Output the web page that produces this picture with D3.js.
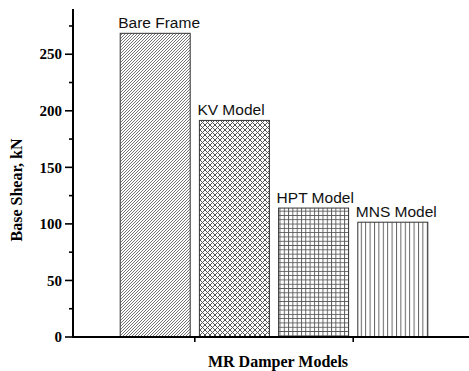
<!DOCTYPE html>
<html>
<head>
<meta charset="utf-8">
<script src="https://cdn.jsdelivr.net/npm/d3@7"></script>
<style>
  body { margin: 0; background: #fff; }
</style>
</head>
<body>
<div id="chart"></div>
<script>
const width = 469, height = 371;

const models = ["Bare Frame", "KV Model", "HPT Model", "MNS Model"];
const baseShear = [268.5, 191.5, 114, 101.5];
const patterns = ["diag", "cross", "grid", "vert"];
const yTicks = [0, 50, 100, 150, 200, 250];
const yMinor = [25, 75, 125, 175, 225, 275];
const xTicks = [1.5, 3.5];

const svg = d3.select("#chart").append("svg")
  .attr("width", width)
  .attr("height", height);

const axisX = 73, axisY = 337;

const y = d3.scaleLinear().domain([0, 290]).range([axisY, 9]);
const x = d3.scaleLinear().domain([0, 5]).range([76, 472]);
const barW = 70;

// fill patterns
const defs = svg.append("defs");
function pat(id, size, draw) {
  const p = defs.append("pattern")
    .attr("id", id)
    .attr("patternUnits", "userSpaceOnUse")
    .attr("width", size).attr("height", size);
  p.append("rect").attr("width", size).attr("height", size).attr("fill", "#fff");
  draw(p, size);
}
pat("diag", 3, (p, s) => {
  p.append("path").attr("d", `M0,${s} L${s},0 M${-s / 2},${s / 2} L${s / 2},${-s / 2} M${s / 2},${s * 1.5} L${s * 1.5},${s / 2}`)
    .attr("stroke", "#666").attr("stroke-width", 0.9);
});
pat("cross", 5, (p, s) => {
  p.append("path").attr("d", `M0,0 L${s},${s} M0,${s} L${s},0`)
    .attr("stroke", "#555").attr("stroke-width", 1);
});
pat("grid", 4.3, (p, s) => {
  p.append("path").attr("d", `M0,0.5 H${s} M0.5,0 V${s}`)
    .attr("stroke", "#555").attr("stroke-width", 0.9);
});
pat("vert", 4.4, (p, s) => {
  p.append("path").attr("d", `M0.5,0 V${s}`)
    .attr("stroke", "#555").attr("stroke-width", 0.9);
});

const data = models.map((m, i) => ({ name: m, value: baseShear[i], pos: i + 1, pattern: patterns[i] }));

// bars
svg.append("g")
  .selectAll("rect").data(data)
  .join("rect")
  .attr("x", d => x(d.pos) - barW / 2)
  .attr("y", d => y(d.value))
  .attr("width", barW)
  .attr("height", d => y(0) - y(d.value))
  .attr("fill", d => `url(#${d.pattern})`)
  .attr("stroke", "#333")
  .attr("stroke-width", 1);

// bar labels
svg.append("g")
  .selectAll("text").data(data)
  .join("text")
  .attr("x", d => x(d.pos) - barW / 2 - 2)
  .attr("y", d => y(d.value) - 5)
  .attr("font-family", "Liberation Sans, Arial, sans-serif")
  .attr("font-size", "15.5px")
  .attr("fill", "#111")
  .text(d => d.name);

// y axis
const yAxis = svg.append("g").attr("transform", `translate(${axisX},0)`);
yAxis.append("line")
  .attr("y1", y(290)).attr("y2", y(0))
  .attr("stroke", "#000").attr("stroke-width", 2);
yAxis.selectAll(".major").data(yTicks).join("line")
  .attr("x1", -8).attr("x2", 0)
  .attr("y1", d => y(d)).attr("y2", d => y(d))
  .attr("stroke", "#000").attr("stroke-width", 1.6);
yAxis.selectAll(".minor").data(yMinor).join("line")
  .attr("x1", -4).attr("x2", 0)
  .attr("y1", d => y(d)).attr("y2", d => y(d))
  .attr("stroke", "#000").attr("stroke-width", 1.6);
yAxis.selectAll("text").data(yTicks).join("text")
  .attr("x", -11)
  .attr("y", d => y(d))
  .attr("dy", "0.35em")
  .attr("text-anchor", "end")
  .attr("font-family", "Liberation Serif, Times New Roman, serif")
  .attr("font-weight", "bold")
  .attr("font-size", "15px")
  .text(d => d);

// x axis
const xAxis = svg.append("g").attr("transform", `translate(0,${axisY})`);
xAxis.append("line")
  .attr("x1", axisX - 1).attr("x2", width)
  .attr("stroke", "#000").attr("stroke-width", 2);
xAxis.selectAll(".tick").data(xTicks).join("line")
  .attr("x1", d => x(d)).attr("x2", d => x(d))
  .attr("y1", 0).attr("y2", 5)
  .attr("stroke", "#000").attr("stroke-width", 1.6);

// axis titles
svg.append("text")
  .attr("transform", `translate(22,190) rotate(-90)`)
  .attr("text-anchor", "middle")
  .attr("font-family", "Liberation Serif, Times New Roman, serif")
  .attr("font-weight", "bold")
  .attr("font-size", "16px")
  .text("Base Shear, kN");

svg.append("text")
  .attr("x", 278)
  .attr("y", 367)
  .attr("text-anchor", "middle")
  .attr("font-family", "Liberation Serif, Times New Roman, serif")
  .attr("font-weight", "bold")
  .attr("font-size", "16px")
  .text("MR Damper Models");
</script>
</body>
</html>
